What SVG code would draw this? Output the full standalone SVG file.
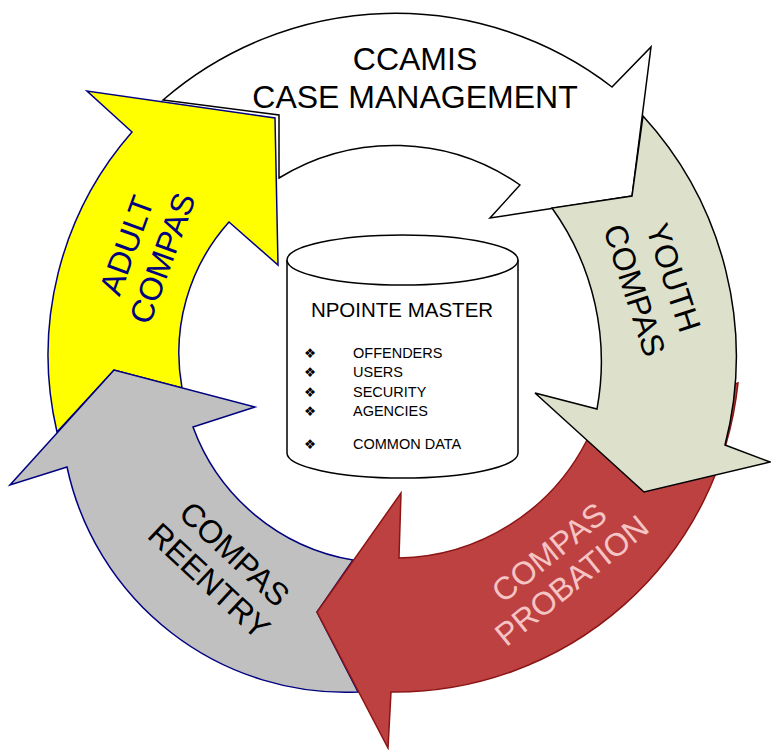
<svg xmlns="http://www.w3.org/2000/svg" width="771" height="750" viewBox="0 0 771 750">
<style>
.arrow{stroke-width:1.5;stroke-linejoin:miter}
.white{fill:#FFFFFF;stroke:#000000}
.yellow{fill:#FFFF00;stroke:#000080}
.gray{fill:#C0C0C0;stroke:#000080}
.red{fill:#BE4141;stroke:#8B1515}
.youth{fill:#DDE1CC;stroke:#000000}
.lbl{font-family:"Liberation Sans",Arial,sans-serif;font-size:32px;text-anchor:middle}
.db{fill:#FFFFFF;stroke:#000000;stroke-width:1.5}
.dbt{font-family:"Liberation Sans",Arial,sans-serif;fill:#000000}
.bul{font-family:"DejaVu Sans",sans-serif;font-size:13.5px;fill:#000000;text-anchor:middle}
</style>
<rect width="771" height="750" fill="#FFFFFF"/>
<g id="connectors"/>
<g id="ccamis">
<path class="arrow white" d="M163,100 A355,355 0 0 1 612,87 L651,47 L632,196 L490,218 L520,185 A220,220 0 0 0 279,178 L279,115 Z"/>
<text class="lbl" fill="#000000"><tspan x="415" y="70">CCAMIS</tspan><tspan x="415" y="108">CASE MANAGEMENT</tspan></text>
</g>
<g id="adult-compas">
<path class="arrow yellow" d="M57,432 L114,370 L182,388 A196,196 0 0 1 229,222 L278,265 L275,118 L87,91 L132,132 A338,338 0 0 0 57,432 Z"/>
<text class="lbl" fill="#000080" transform="translate(137,249) rotate(-70)"><tspan x="0" y="0">ADULT</tspan><tspan x="0" y="38">COMPAS</tspan></text>
</g>
<g id="compas-reentry">
<path class="arrow gray" d="M358,692 L317,612 L353,560 A207,207 0 0 1 193,427 L255,407 L114,370 L10,485 L67,467 A285,285 0 0 0 358,692 Z"/>
<text class="lbl" fill="#000000" transform="translate(227,562) rotate(43)"><tspan x="0" y="0">COMPAS</tspan><tspan x="0" y="37">REENTRY</tspan></text>
</g>
<g id="compas-probation">
<path class="arrow red" d="M587,440 A215,215 0 0 1 399,558 L401,493 L317,612 L388,748 L391,692 A345,345 0 0 0 738,383 Z"/>
<text class="lbl" fill="#F5C4C4" transform="translate(556,561) rotate(-39)"><tspan x="0" y="0">COMPAS</tspan><tspan x="0" y="36">PROBATION</tspan></text>
</g>
<g id="youth-compas">
<path class="arrow youth" d="M643,116 L632,196 L552,208 A263,263 0 0 1 597,409 L535,393 L644,492 L770,462 L725,445 A356,356 0 0 0 643,116 Z"/>
<text class="lbl" fill="#000000" transform="translate(663,281) rotate(72)"><tspan x="0" y="0">YOUTH</tspan><tspan x="0" y="41">COMPAS</tspan></text>
</g>
<g id="npointe-master">
<path class="db" d="M287,260 L287,453 A115.5,25 0 0 0 518,453 L518,260"/>
<ellipse class="db" cx="402.5" cy="260" rx="115.5" ry="25"/>
<text class="dbt" x="402" y="317" font-size="20.5" text-anchor="middle">NPOINTE MASTER</text>
<g class="bul">
<text x="310" y="358">❖</text>
<text x="310" y="377">❖</text>
<text x="310" y="397">❖</text>
<text x="310" y="416">❖</text>
<text x="310" y="449">❖</text>
</g>
<g class="dbt" font-size="14.5">
<text x="353" y="358">OFFENDERS</text>
<text x="353" y="377">USERS</text>
<text x="353" y="397">SECURITY</text>
<text x="353" y="416">AGENCIES</text>
<text x="353" y="449">COMMON DATA</text>
</g>
</g>
</svg>
